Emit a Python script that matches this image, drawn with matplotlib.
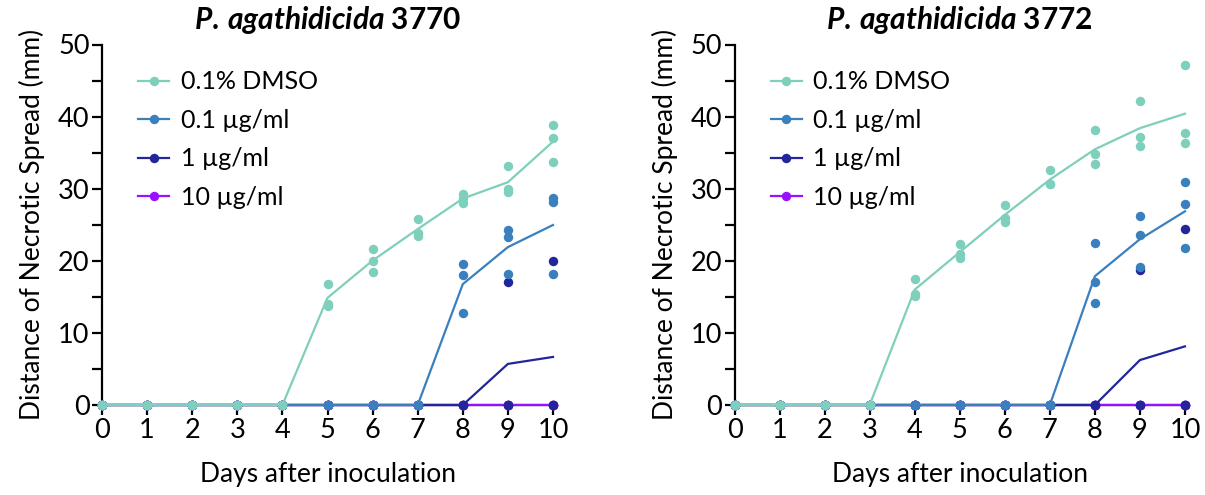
import matplotlib
matplotlib.use("Agg")
import matplotlib.pyplot as plt
import numpy as np
from matplotlib.ticker import MultipleLocator

plt.rcParams['font.family'] = ['Lato', 'DejaVu Sans']
plt.rcParams['mathtext.fontset'] = 'custom'
plt.rcParams['mathtext.it'] = 'Lato:italic:bold'
plt.rcParams['mathtext.rm'] = 'Lato:bold'

days = list(range(11))
treatments = ["0.1% DMSO", "0.1 µg/ml", "1 µg/ml", "10 µg/ml"]
colors = ["#7ECFBB", "#3A80BF", "#23259A", "#9910FF"]
titles = ["3770", "3772"]

# replicate measurements per day (3 replicates), strain 3770
s3770_dmso = [[0, 0, 0]] * 5 + [
    [16.8, 14.0, 13.8], [21.7, 20.0, 18.4], [25.8, 23.9, 23.5],
    [29.2, 28.7, 28.0], [33.2, 29.9, 29.6], [38.9, 37.0, 33.7]]
s3770_01 = [[0, 0, 0]] * 8 + [
    [19.6, 18.0, 12.7], [24.3, 23.3, 18.1], [28.7, 28.1, 18.1]]
s3770_1 = [[0, 0, 0]] * 9 + [[17.1, 0, 0], [20.0, 0, 0]]
s3770_10 = [[0, 0, 0]] * 11

# strain 3772
s3772_dmso = [[0, 0, 0]] * 4 + [
    [17.5, 15.4, 15.1], [22.3, 20.9, 20.4], [27.7, 26.0, 25.4],
    [32.6, 30.6, 30.6], [38.2, 34.8, 33.4], [42.1, 37.2, 35.9],
    [47.1, 37.7, 36.4]]
s3772_01 = [[0, 0, 0]] * 8 + [
    [22.5, 17.0, 14.1], [26.2, 23.6, 19.2], [30.9, 27.9, 21.8]]
s3772_1 = [[0, 0, 0]] * 9 + [[18.7, 0, 0], [24.4, 0, 0]]
s3772_10 = [[0, 0, 0]] * 11

datasets = [
    [s3770_dmso, s3770_01, s3770_1, s3770_10],
    [s3772_dmso, s3772_01, s3772_1, s3772_10],
]

fig = plt.figure(figsize=(12.05, 4.95), dpi=100)
axes = [fig.add_axes([102/1205, 90/495, 451/1205, 360.5/495]),
        fig.add_axes([734.5/1205, 90/495, 450.5/1205, 360.5/495])]

for ax, data, strain in zip(axes, datasets, titles):
    n = len(treatments)
    for i in reversed(range(n)):
        vals = np.array(data[i], dtype=float)
        means = vals.mean(axis=1)
        z = 10 + (n - i) * 2
        ax.plot(days, means, color=colors[i], lw=1.6, zorder=z, clip_on=False)
        xs = np.repeat(days, vals.shape[1])
        ax.plot(xs, vals.ravel(), 'o', color=colors[i], ms=6.8, mec='none',
                zorder=z + 1, clip_on=False)
    handles = [plt.Line2D([], [], color=c, lw=1.6, marker='o', ms=6.8, mec='none')
               for c in colors]
    ax.legend(handles, treatments, loc='upper left', bbox_to_anchor=(0.08, 0.928),
              frameon=False, fontsize=18, handlelength=1.25, handletextpad=0.45,
              labelspacing=0.62, borderpad=0, borderaxespad=0)
    ax.set_xlim(0, 10)
    ax.set_ylim(0, 50)
    ax.set_xticks(days)
    ax.yaxis.set_major_locator(MultipleLocator(10))
    ax.yaxis.set_minor_locator(MultipleLocator(5))
    for s in ['top', 'right']:
        ax.spines[s].set_visible(False)
    for s in ['left', 'bottom']:
        ax.spines[s].set_linewidth(1.6)
        ax.spines[s].set_color('black')
    ax.spines['bottom'].set_zorder(1)
    ax.tick_params(axis='both', which='both', direction='out', width=1.6,
                   color='black', labelsize=19.5)
    ax.tick_params(axis='both', which='major', length=7, pad=2)
    ax.tick_params(axis='y', which='minor', length=7)
    ax.set_xlabel("Days after inoculation", fontsize=19, labelpad=14)
    ax.set_ylabel("Distance of Necrotic Spread (mm)", fontsize=19, labelpad=9)
    ax.set_title(r"$\mathit{P.\,agathidicida}$ " + strain, fontsize=21.5,
                 fontweight='bold', pad=11)

fig.savefig("out.png", dpi=100)
